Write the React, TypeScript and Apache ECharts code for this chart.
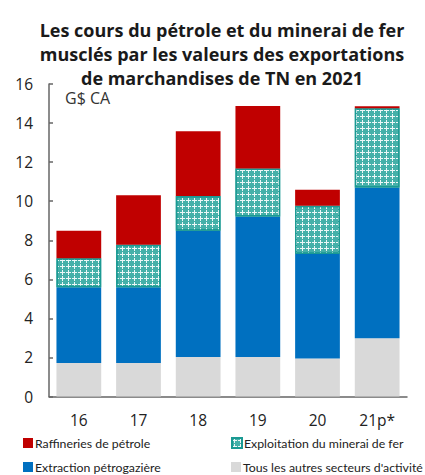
import React, { useEffect, useRef } from "react";
import * as echarts from "echarts";

const categories = ["16", "17", "18", "19", "20", "21p*"];
const autres = [1.72, 1.72, 2.02, 2.02, 1.95, 2.98];
const extraction = [3.88, 3.88, 6.47, 7.2, 5.34, 7.72];
const minerai = [1.48, 2.17, 1.78, 2.45, 2.48, 4.06];
const raffineries = [1.41, 2.53, 3.31, 3.2, 0.82, 0.1];
const yTicks = { min: 0, max: 16, interval: 2 };
const legendNames = [
  "Raffineries de pétrole",
  "Exploitation du minerai de fer",
  "Extraction pétrogazière",
  "Tous les autres secteurs d'activité",
];

const FONT = "'Open Sans', 'Noto Sans', sans-serif";
const LFONT = "Lato, 'Open Sans', sans-serif";

export default function App() {
  const ref = useRef<HTMLDivElement>(null);
  useEffect(() => {
    if (!ref.current) return;
    const chart = echarts.init(ref.current, null, { renderer: "svg" });
    const plus = "path://M2,0H3V2H5V3H3V5H2V3H0V2H2Z";
    const legendPos = [
      [23, 437],
      [231, 437],
      [23, 461],
      [231, 461],
    ];
    chart.setOption({
      animation: false,
      backgroundColor: "#ffffff",
      grid: { left: 49, right: 18, top: 84, bottom: 78.5, containLabel: false },
      graphic: [
        {
          type: "text",
          x: 222,
          y: 18,
          style: {
            text: "Les cours du pétrole et du minerai de fer\nmusclés par les valeurs des exportations\nde marchandises de TN en 2021",
            font: `bold 18px ${FONT}`,
            fill: "#1a1a1a",
            textAlign: "center",
            lineHeight: 24,
          },
        },
        {
          type: "text",
          x: 65,
          y: 90,
          style: { text: "G$ CA", font: `16px ${FONT}`, fill: "#333" },
        },
      ],
      xAxis: {
        type: "category",
        data: categories,
        axisLine: { lineStyle: { color: "#666", width: 1.5 } },
        axisTick: { inside: true, length: 4, lineStyle: { color: "#666", width: 1.5 } },
        axisLabel: { color: "#222", fontSize: 15.5, fontFamily: FONT, margin: 15 },
      },
      yAxis: {
        type: "value",
        min: yTicks.min,
        max: yTicks.max,
        interval: yTicks.interval,
        splitLine: { show: false },
        axisLine: { show: true, lineStyle: { color: "#666", width: 1.5 } },
        axisTick: { show: true, inside: true, length: 4, lineStyle: { color: "#666", width: 1.5 } },
        axisLabel: { color: "#222", fontSize: 15.5, fontFamily: FONT, margin: 16 },
      },
      legend: legendNames.map((n, i) => ({
        left: legendPos[i][0],
        top: legendPos[i][1],
        padding: 0,
        itemWidth: 10,
        itemHeight: 10,
        icon: "rect",
        data: [n],
        textStyle: { fontSize: 12.3, fontFamily: LFONT, color: "#222", padding: [0, 0, 0, -3] },
      })),
      series: [
        {
          name: "Tous les autres secteurs d'activité",
          type: "bar",
          stack: "t",
          barCategoryGap: "25%",
          data: autres,
          itemStyle: { color: "#d9d9d9" },
        },
        {
          name: "Extraction pétrogazière",
          type: "bar",
          stack: "t",
          data: extraction,
          itemStyle: { color: "#0070c0" },
        },
        {
          name: "Exploitation du minerai de fer",
          type: "bar",
          stack: "t",
          data: minerai,
          itemStyle: {
            color: "#45b0a9",
            borderColor: "#1b9a93",
            borderWidth: 1.5,
            decal: {
              symbol: plus,
              symbolSize: 1,
              color: "rgba(255,255,255,0.9)",
              dashArrayX: [5, 1],
              dashArrayY: [5, 1],
              rotation: 0,
            },
          },
        },
        {
          name: "Raffineries de pétrole",
          type: "bar",
          stack: "t",
          data: raffineries,
          itemStyle: { color: "#c00000" },
        },
      ],
    });
    return () => chart.dispose();
  }, []);
  return <div ref={ref} style={{ width: 425, height: 475, position: "absolute", left: 0, top: 0 }} />;
}
